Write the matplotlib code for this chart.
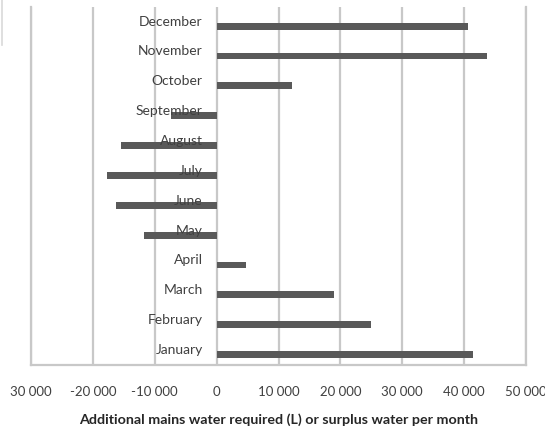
import matplotlib
matplotlib.use("Agg")
from matplotlib import pyplot as plt
from matplotlib.lines import Line2D
import matplotlib.transforms as mtransforms

# Monthly balance of mains water (L)
months = ["January", "February", "March", "April", "May", "June",
          "July", "August", "September", "October", "November", "December"]
balance = [41500, 25000, 19000, 4700, -11700, -16300,
           -17700, -15500, -7300, 12200, 43700, 40600]
x_ticks = [-30000, -20000, -10000, 0, 10000, 20000, 30000, 40000, 50000]
x_tick_labels = ["30 000", "-20 000", "-10 000", "0", "10 000",
                 "20 000", "30 000", "40 000", "50 000"]
x_title = "Additional mains water required (L) or surplus water per month"

plt.rcParams["font.family"] = ["Lato", "DejaVu Sans"]

GRID = "#c8c8c8"
BAR = "#595959"
TEXT = "#404040"

fig = plt.figure(figsize=(5.45, 4.30), dpi=100)
ax = fig.add_axes([31 / 545, 1 - 365 / 430, (526 - 31) / 545, (365 - 6.7) / 430])

positions = list(range(len(months)))
ax.barh([p - 0.15 for p in positions], balance, height=0.23, color=BAR, zorder=3)

# month names sit beside the zero line
offset = mtransforms.offset_copy(ax.transData, fig=fig, x=-14, y=0, units="dots")
for p, name in zip(positions, months):
    ax.text(0, p, name, ha="right", va="center", fontsize=10, color=TEXT,
            transform=offset, zorder=4)

ax.set_xlim(-30000, 50000)
ax.set_ylim(-0.5, 11.5)
ax.set_xticks(x_ticks)
ax.set_xticklabels(x_tick_labels, fontsize=9.5, color=TEXT)
ax.set_yticks([])
ax.tick_params(axis="x", length=0, pad=15)
ax.grid(axis="x", color=GRID, linewidth=1.6, zorder=0)
ax.set_axisbelow(True)
for side in ["left", "bottom", "right"]:
    ax.spines[side].set_color(GRID)
    ax.spines[side].set_linewidth(1.6)
ax.spines["top"].set_visible(False)

ax.set_xlabel(x_title, fontsize=10.3, fontweight="bold", color="#262626", labelpad=11)

# fragment of outer chart border at top left
fig.add_artist(Line2D([1.5 / 545, 1.5 / 545], [1 - 45 / 430, 1.0],
                      transform=fig.transFigure, color="#d9d9d9", linewidth=1.2))

fig.savefig("out.png", dpi=100)
